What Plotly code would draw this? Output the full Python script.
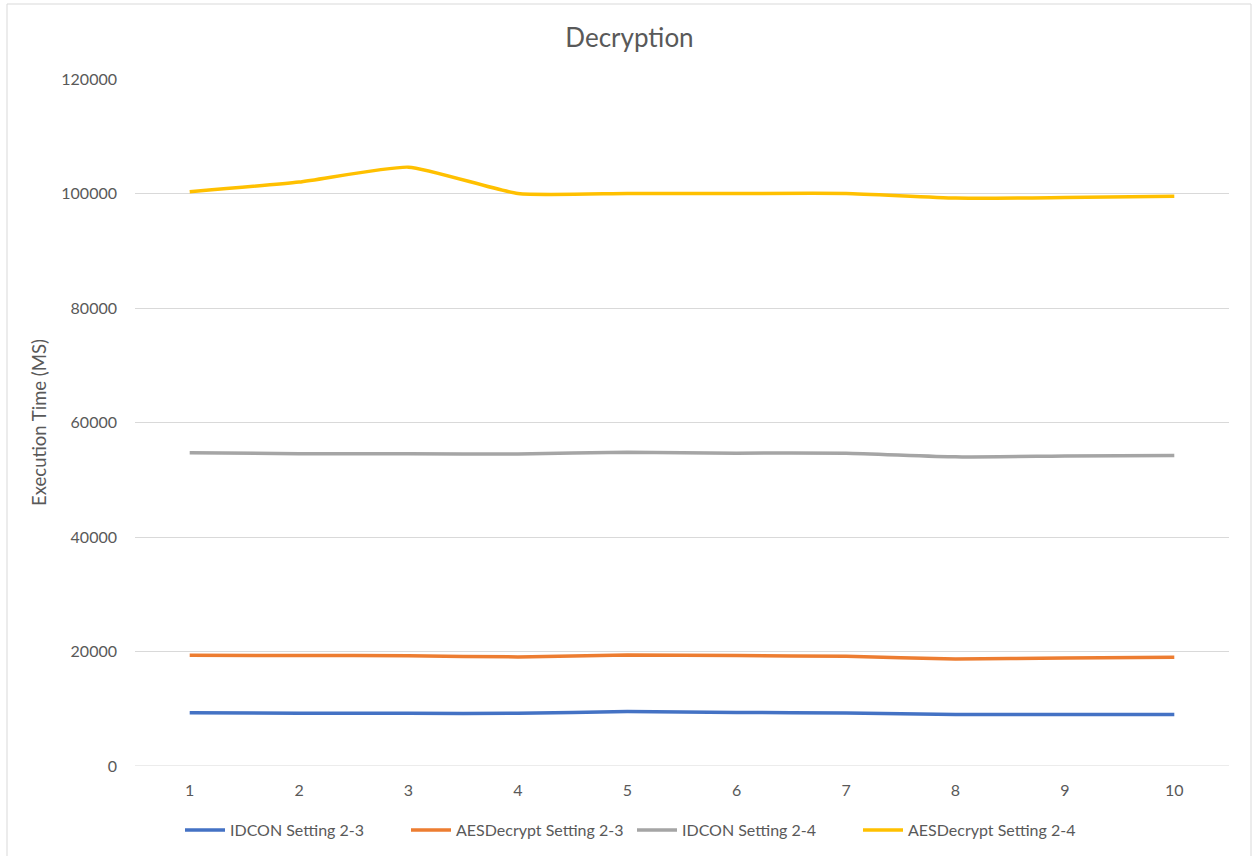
import plotly.graph_objects as go

runs = [1, 2, 3, 4, 5, 6, 7, 8, 9, 10]
idcon_23 = [9300, 9200, 9200, 9200, 9500, 9350, 9250, 9000, 9000, 9000]
aes_23 = [19350, 19300, 19250, 19050, 19400, 19300, 19150, 18700, 18850, 19000]
idcon_24 = [54700, 54550, 54550, 54500, 54800, 54650, 54650, 54000, 54150, 54250]
aes_24 = [100300, 102000, 104600, 100000, 100000, 100000, 100000, 99200, 99300, 99500]

series = [
    ("IDCON Setting 2-3", idcon_23, "#4472C4"),
    ("AESDecrypt Setting 2-3", aes_23, "#ED7D31"),
    ("IDCON Setting 2-4", idcon_24, "#A5A5A5"),
    ("AESDecrypt Setting 2-4", aes_24, "#FFC000"),
]

FONT = "Lato, Carlito, Calibri, sans-serif"
TXT = "#595959"
W, H = 1259, 856
L, R, T, B = 135, 30, 79, 90
PW, PH = W - L - R, H - T - B

fig = go.Figure()
for name, vals, color in series:
    fig.add_trace(go.Scatter(
        x=runs, y=vals, name=name, mode="lines",
        line=dict(color=color, width=3.5, shape="spline", smoothing=0.5),
    ))

fig.update_layout(
    width=W, height=H,
    margin=dict(l=L, r=R, t=T, b=B, autoexpand=False),
    paper_bgcolor="white", plot_bgcolor="white",
    font=dict(family=FONT, color=TXT, size=16),
    title=dict(text="Decryption", x=0.5, xref="container", xanchor="center",
               y=1 - 38 / H, yref="container", yanchor="middle",
               font=dict(size=26, color=TXT, family=FONT)),
    xaxis=dict(range=[0.5, 10.5], tickmode="array", tickvals=runs,
               ticktext=[str(r) for r in runs], showgrid=False,
               zeroline=False, showline=False, ticks="",
               ticklabelstandoff=13, automargin=False,
               tickfont=dict(size=16, color=TXT)),
    yaxis=dict(range=[0, 120000], dtick=20000, showgrid=True,
               gridcolor="#d9d9d9", gridwidth=1, zeroline=False,
               showline=False, ticks="", tickformat="d",
               ticklabelstandoff=17, automargin=False,
               title=dict(text="Execution Time (MS)", standoff=9,
                          font=dict(size=18.5, color=TXT)),
               tickfont=dict(size=16, color=TXT)),
    legend=dict(orientation="h", x=(632 - L) / PW, xanchor="center",
                y=-(830 - (T + PH)) / PH, yanchor="middle",
                itemwidth=40, entrywidth=171, entrywidthmode="pixels",
                font=dict(size=16, color=TXT), traceorder="normal"),
    showlegend=True,
)

# baseline along the category axis
fig.add_shape(type="line", xref="paper", yref="y", x0=0, x1=1, y0=0, y1=0,
              line=dict(color="#d9d9d9", width=1))

# chart frame
fig.add_shape(type="rect", xref="paper", yref="paper",
              x0=(7 - L) / PW, x1=(1251 - L) / PW,
              y0=-(866 - (T + PH)) / PH, y1=1 + (T - 4) / PH,
              line=dict(color="#d9d9d9", width=1), layer="below")

fig.write_html("out.html")
